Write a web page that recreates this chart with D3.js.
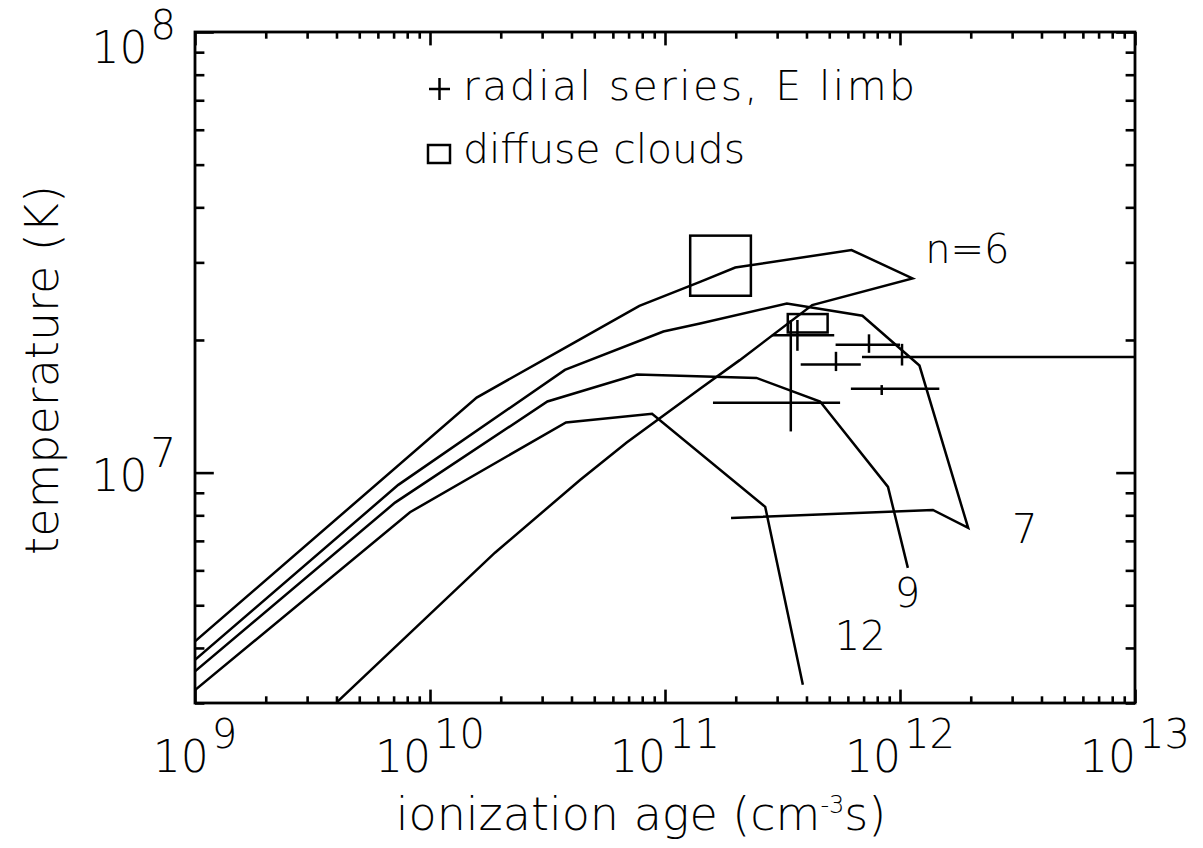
<!DOCTYPE html>
<html lang="en">
<head>
<meta charset="UTF-8">
<title>temperature vs ionization age</title>
<script src="https://cdn.jsdelivr.net/npm/d3@7/dist/d3.min.js"></script>
<style>
    body { margin: 0; background: #fff; }
    svg { display: block; font-family: "DejaVu Sans", sans-serif; font-weight: 300; }
    svg .frame { fill: none; stroke: #000; stroke-width: 2.8; }
    svg .axis path.domain { display: none; }
    svg .axis line { stroke: #000; stroke-width: 2.6; }
    svg .curve { fill: none; stroke: #000; stroke-width: 2.5; }
    svg .bar { stroke: #000; stroke-width: 2.5; }
    svg .cloud { fill: none; stroke: #000; stroke-width: 2.5; }
    svg text { fill: #000; }
</style>
</head>
<body>
<svg width="1203" height="848"></svg>
<script>
    // axis ticks
    var xMajor = [1e9, 1e10, 1e11, 1e12, 1e13],
        xMajorExp = ['9', '10', '11', '12', '13'],
        yMajor = [1e7, 1e8],
        yMajorExp = ['7', '8'];

    // model curves, ionization age (cm^-3 s) and temperature (K)
    var tauN6 = [1e9, 1.58e10, 3.75e10, 7.78e10, 1.41e11, 1.99e11, 6.22e11, 1.13e12,
                 4.23e11, 2.08e11, 1.41e11, 6.87e10, 4.35e10, 1.89e10, 4.01e9],
        tempN6 = [4.14e6, 1.48e7, 1.92e7, 2.39e7, 2.71e7, 2.92e7, 3.20e7, 2.76e7,
                  2.40e7, 1.80e7, 1.55e7, 1.17e7, 9.62e6, 6.58e6, 3.01e6];
    var tauN7 = [1e9, 7.33e9, 3.75e10, 9.84e10, 1.41e11, 3.30e11, 6.92e11, 1.21e12,
                 1.95e12, 1.38e12, 1.91e11],
        tempN7 = [3.76e6, 9.38e6, 1.71e7, 2.09e7, 2.18e7, 2.42e7, 2.27e7, 1.75e7,
                  7.49e6, 8.23e6, 7.89e6];
    var tauN9 = [1e9, 7.10e9, 3.16e10, 7.59e10, 2.45e11, 4.57e11, 8.89e11, 1.08e12],
        tempN9 = [3.54e6, 8.55e6, 1.45e7, 1.67e7, 1.64e7, 1.45e7, 9.28e6, 6.08e6];
    var tauN12 = [1e9, 8.22e9, 3.79e10, 8.81e10, 2.67e11, 3.86e11],
        tempN12 = [3.21e6, 8.13e6, 1.30e7, 1.36e7, 8.36e6, 3.30e6];

    var curveNames = ['n=6', '7', '9', '12'],
        labelTau = [1.28e12, 3.0e12, 9.5e11, 5.28e11],
        labelTemp = [2.99e7, 6.93e6, 4.96e6, 3.96e6];

    // radial series, E limb (crosses)
    var radialTau = [3.66e11, 3.43e11, 7.38e11, 5.34e11, 1.02e12, 8.36e11],
        radialTauLo = [2.85e11, 1.60e11, 5.32e11, 3.78e11, 6.89e11, 6.18e11],
        radialTauHi = [5.25e11, 5.56e11, 1.00e12, 6.81e11, 2.0e13, 1.47e12],
        radialTemp = [2.05e7, 1.44e7, 1.95e7, 1.76e7, 1.83e7, 1.55e7],
        radialTempLo = [1.89e7, 1.24e7, 1.87e7, 1.70e7, 1.75e7, 1.50e7],
        radialTempHi = [2.22e7, 2.22e7, 2.06e7, 1.88e7, 1.96e7, 1.58e7];

    // diffuse clouds (boxes)
    var cloudTauLo = [1.28e11, 3.33e11],
        cloudTauHi = [2.32e11, 4.92e11],
        cloudTempLo = [2.52e7, 2.08e7],
        cloudTempHi = [3.45e7, 2.29e7];

    var svg = d3.select('svg'),
        pLeft = 195, pRight = 1135, pTop = 32, pBottom = 703;

    var x = d3.scaleLog().domain([1e9, 1e13]).range([pLeft, pRight]),
        y = d3.scaleLog().domain([3e6, 1e8]).range([pBottom, pTop]);

    var xMinor = x.ticks().filter(function(v) { return xMajor.indexOf(v) < 0; }),
        yMinor = y.ticks().filter(function(v) { return yMajor.indexOf(v) < 0; });

    var xLen = 13.4, yLen = 18.8;

    function tickAxis(axisFn, scale, values, len, tx, ty) {
        svg.append('g')
            .attr('class', 'axis')
            .attr('transform', 'translate(' + tx + ',' + ty + ')')
            .call(axisFn(scale).tickValues(values).tickSize(len).tickSizeOuter(0).tickFormat(''));
    }

    // ticks point inward on all four sides
    tickAxis(d3.axisTop, x, xMajor, xLen, 0, pBottom);
    tickAxis(d3.axisTop, x, xMinor, xLen / 2, 0, pBottom);
    tickAxis(d3.axisBottom, x, xMajor, xLen, 0, pTop);
    tickAxis(d3.axisBottom, x, xMinor, xLen / 2, 0, pTop);
    tickAxis(d3.axisRight, y, yMajor, yLen, pLeft, 0);
    tickAxis(d3.axisRight, y, yMinor, yLen / 2, pLeft, 0);
    tickAxis(d3.axisLeft, y, yMajor, yLen, pRight, 0);
    tickAxis(d3.axisLeft, y, yMinor, yLen / 2, pRight, 0);

    svg.append('rect')
        .attr('class', 'frame')
        .attr('x', pLeft).attr('y', pTop)
        .attr('width', pRight - pLeft).attr('height', pBottom - pTop);

    // tick labels
    xMajor.forEach(function(v, i) {
        var t = svg.append('text')
            .attr('x', x(v)).attr('y', 772)
            .attr('text-anchor', 'middle')
            .style('font-size', '44px');
        t.append('tspan').text('10');
        t.append('tspan').attr('dy', -24).attr('dx', 3).style('font-size', '40px').text(xMajorExp[i]);
    });

    yMajor.forEach(function(v, i) {
        // keep the top label inside the page
        var base = Math.max(y(v) + 18, 63);
        var t = svg.append('text')
            .attr('x', 176).attr('y', base)
            .attr('text-anchor', 'end')
            .style('font-size', '44px');
        t.append('tspan').text('10');
        t.append('tspan').attr('dy', -24).attr('dx', 3).style('font-size', '40px').text(yMajorExp[i]);
    });

    // axis titles
    var xt = svg.append('text')
        .attr('x', 641).attr('y', 830)
        .attr('text-anchor', 'middle')
        .style('font-size', '46px');
    xt.append('tspan').text('ionization age (cm');
    xt.append('tspan').attr('dy', -17).style('font-size', '24px').text('-3');
    xt.append('tspan').attr('dy', 17).text('s)');

    svg.append('text')
        .attr('transform', 'translate(58,370) rotate(-90)')
        .attr('text-anchor', 'middle')
        .style('font-size', '46px')
        .text('temperature (K)');

    // plot content
    svg.append('clipPath').attr('id', 'plot-clip')
        .append('rect')
        .attr('x', pLeft).attr('y', pTop)
        .attr('width', pRight - pLeft).attr('height', pBottom - pTop);

    var plot = svg.append('g').attr('clip-path', 'url(#plot-clip)');

    var line = d3.line()
        .x(function(d) { return x(d[0]); })
        .y(function(d) { return y(d[1]); });

    [[tauN6, tempN6], [tauN7, tempN7], [tauN9, tempN9], [tauN12, tempN12]].forEach(function(c) {
        plot.append('path')
            .attr('class', 'curve')
            .attr('d', line(d3.zip(c[0], c[1])));
    });

    radialTau.forEach(function(v, i) {
        plot.append('line')
            .attr('class', 'bar')
            .attr('x1', x(radialTauLo[i])).attr('x2', x(radialTauHi[i]))
            .attr('y1', y(radialTemp[i])).attr('y2', y(radialTemp[i]));
        plot.append('line')
            .attr('class', 'bar')
            .attr('x1', x(v)).attr('x2', x(v))
            .attr('y1', y(radialTempLo[i])).attr('y2', y(radialTempHi[i]));
    });

    cloudTauLo.forEach(function(v, i) {
        plot.append('rect')
            .attr('class', 'cloud')
            .attr('x', x(v))
            .attr('y', y(cloudTempHi[i]))
            .attr('width', x(cloudTauHi[i]) - x(v))
            .attr('height', y(cloudTempLo[i]) - y(cloudTempHi[i]));
    });

    curveNames.forEach(function(name, i) {
        svg.append('text')
            .attr('x', x(labelTau[i])).attr('y', y(labelTemp[i]))
            .style('font-size', '40px')
            .text(name);
    });

    // legend
    var legend = svg.append('g');
    legend.append('line').attr('class', 'bar')
        .attr('x1', 429).attr('x2', 450).attr('y1', 89).attr('y2', 89);
    legend.append('line').attr('class', 'bar')
        .attr('x1', 439.5).attr('x2', 439.5).attr('y1', 78).attr('y2', 100);
    legend.append('text')
        .attr('x', 463).attr('y', 100)
        .attr('textLength', 452).attr('lengthAdjust', 'spacing')
        .style('font-size', '41px')
        .text('radial series, E limb');
    legend.append('rect').attr('class', 'cloud')
        .attr('x', 428).attr('y', 145).attr('width', 22).attr('height', 18);
    legend.append('text')
        .attr('x', 463).attr('y', 163)
        .attr('textLength', 282).attr('lengthAdjust', 'spacing')
        .style('font-size', '41px')
        .text('diffuse clouds');
</script>
</body>
</html>
